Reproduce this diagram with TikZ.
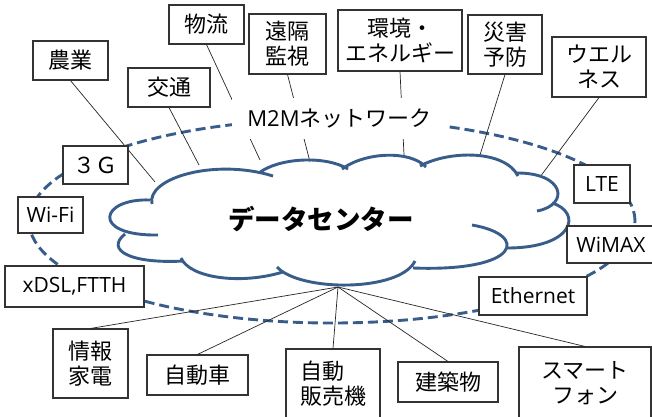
\documentclass[tikz,border=0pt]{standalone}
\usepackage{fontspec}
\setmainfont{Noto Sans CJK JP}
\newfontfamily\lat{Open Sans}
\definecolor{cloudblue}{RGB}{56,93,138}
\begin{document}
\begin{tikzpicture}[x=1pt,y=-1pt,
  box/.style={draw=black!80, line width=1.1pt, fill=white, align=center, inner sep=0pt, font=\fontsize{22}{25}\selectfont},
  latbox/.style={box, font=\lat\fontsize{21}{25}\selectfont},
  conn/.style={draw=black!85, line width=0.7pt},
  cloudline/.style={draw=cloudblue, line width=2.9pt},
  ring/.style={draw=cloudblue, line width=2.9pt, dash pattern=on 10pt off 5pt}]
\useasboundingbox (0,0) rectangle (652,416);
\fill[white] (0,0) rectangle (652,416);

% dashed network ring
\draw[ring] (332,221) ellipse [x radius=303pt, y radius=102pt];

% connector end points
\coordinate (e1) at (155,182);
\coordinate (e2) at (199,165);
\coordinate (e3) at (260,160);
\coordinate (e4) at (310,162);
\coordinate (e5) at (404,155);
\coordinate (e6) at (480,155);
\coordinate (e7) at (540,177);
\coordinate (hub) at (338,287);

% boxes (positions)
\node[box, minimum width=75pt, minimum height=39pt] (butsuryu) at (206.5,24.5) {物流};
\node[box, minimum width=77pt, minimum height=60pt] (enkaku) at (287.5,44) {遠隔\\監視};
\node[box, minimum width=75pt, minimum height=39pt] (nogyo) at (70.5,60.5) {農業};
\node[box, minimum width=82pt, minimum height=39pt] (kotsu) at (169,87.5) {交通};
\node[box, minimum width=124pt, minimum height=61pt] (kankyo) at (400,40.5) {環境・\\エネルギー};
\node[box, minimum width=74pt, minimum height=59pt] (saigai) at (505,44.5) {災害\\予防};
\node[box, minimum width=94pt, minimum height=60pt] (wellness) at (599,67) {ウエル\\ネス};
\node[box, minimum width=75pt, minimum height=69pt] (joho) at (90.5,363.5) {情報\\家電};
\node[box, minimum width=101pt, minimum height=40pt] (car) at (197.5,375) {自動車};
\node[box, minimum width=94pt, minimum height=70pt, align=left] (vending) at (333,384) {自動\\販売機};
\node[box, minimum width=100pt, minimum height=40pt] (bldg) at (448,382) {建築物};
\node[box, minimum width=132pt, minimum height=73pt] (phone) at (585,383.5) {スマート\\フォン};

% connectors
\draw[conn] (nogyo.south) -- (e1);
\draw[conn] (kotsu.south) -- (e2);
\draw[conn] (butsuryu.south) -- (e3);
\draw[conn] (enkaku.south) -- (e4);
\draw[conn] (kankyo.south) -- (e5);
\draw[conn] (saigai.south) -- (e6);
\draw[conn] (wellness.south) -- (e7);
\draw[conn] (hub) -- (joho.north);
\draw[conn] (hub) -- (car.north);
\draw[conn] (hub) -- (vending.north);
\draw[conn] (hub) -- (bldg.north);
\draw[conn] (hub) -- (phone.north);

% cloud
\draw[cloudline]
  (152,204) .. controls (146,178) and (215,158) .. (273,176)
  (259,173) .. controls (278,158) and (325,155) .. (348,169)
  (342,169) .. controls (365,152) and (410,150) .. (426,167)
  (420,166) .. controls (450,150) and (505,150) .. (518,176)
  (515,173) .. controls (565,172) and (570,205) .. (537,211)
  (552,203) .. controls (582,212) and (575,248) .. (507,248)
  (472,225) .. controls (530,235) and (520,272) .. (413,268)
  (415,261) .. controls (400,292) and (300,292) .. (277,267)
  (283,272) .. controls (240,285) and (190,278) .. (181,258)
  (125,234) .. controls (105,250) and (130,264) .. (184,261)
  (150,200) .. controls (100,198) and (90,236) .. (158,235);

\node[font=\bfseries\fontsize{26.5}{30}\selectfont] (dc) at (321,219) {データセンター};

% ring label
\node[fill=white, minimum width=215pt, minimum height=41pt, inner sep=0pt, font=\fontsize{22}{25}\selectfont] (m2m) at (339.5,118.5) {{\lat M2M}ネットワーク};

% access boxes on the ring
\node[box, minimum width=65pt, minimum height=38pt] (g3) at (95.5,165) {３Ｇ};
\node[latbox, minimum width=65pt, minimum height=36pt] (wifi) at (50.5,215) {Wi-Fi};
\node[latbox, minimum width=139pt, minimum height=41pt] (xdsl) at (74.5,286.5) {xDSL,FTTH};
\node[latbox, minimum width=56pt, minimum height=38pt] (lte) at (602,184) {LTE};
\node[latbox, minimum width=88pt, minimum height=37pt] (wimax) at (611,244.5) {WiMAX};
\node[latbox, minimum width=108pt, minimum height=38pt] (ether) at (533,296) {Ethernet};
\end{tikzpicture}
\end{document}
